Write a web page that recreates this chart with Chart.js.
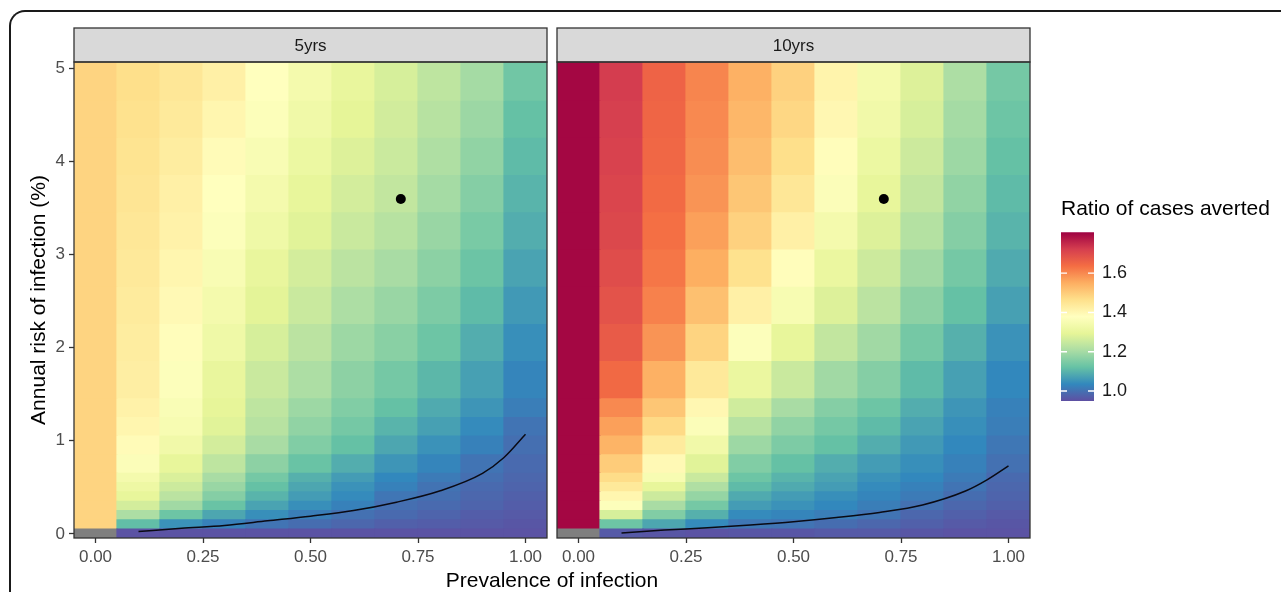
<!DOCTYPE html>
<html>
<head>
<meta charset="utf-8">
<script src="https://cdn.jsdelivr.net/npm/chart.js@4.4.1/dist/chart.umd.min.js"></script>
<style>
  html, body { margin: 0; padding: 0; background: #fff; overflow: hidden; }
  #wrap { position: relative; width: 1281px; height: 592px; overflow: hidden; }
  #wrap canvas { position: absolute; }
  #frame { position: absolute; left: 9px; top: 10px; width: 1400px; height: 700px;
           border-left: 2px solid #1a1a1a; border-top: 2px solid #1a1a1a; border-top-left-radius: 16px; }
</style>
</head>
<body>
<div id="wrap">
  <div id="frame"></div>
  <canvas id="panel5" width="1281" height="592" style="left:0;top:0"></canvas>
  <canvas id="panel10" width="1281" height="592" style="left:0;top:0"></canvas>
  <canvas id="legend" width="241" height="240" style="left:1040px;top:180px"></canvas>
</div>
<script>
let facets = ['5yrs', '10yrs'];
let xCenters = [0, 0.1, 0.2, 0.3, 0.4, 0.5, 0.6, 0.7, 0.8, 0.9, 1.0];
// row bounds of the tiles, bottom to top
let rowEdges = [-0.045, 0.05, 0.15, 0.25, 0.35, 0.45, 0.55, 0.65, 0.85, 1.05, 1.25, 1.45, 1.85, 2.25, 2.65, 3.05, 3.45, 3.85, 4.25, 4.65, 5.072];

// ratio of cases averted, one row per band (bottom first), one value per prevalence
let ratio5 = [
  [null, 0.955, 0.955, 0.955, 0.955, 0.955, 0.955, 0.955, 0.955, 0.955, 0.955],
  [1.485, 1.115, 1.05, 1.025, 1.005, 0.995, 0.985, 0.975, 0.97, 0.965, 0.96],
  [1.485, 1.21, 1.13, 1.08, 1.045, 1.02, 1.0, 0.99, 0.98, 0.97, 0.965],
  [1.485, 1.265, 1.195, 1.125, 1.075, 1.045, 1.025, 0.998, 0.99, 0.98, 0.97],
  [1.485, 1.30, 1.23, 1.16, 1.10, 1.065, 1.04, 1.008, 0.997, 0.985, 0.975],
  [1.485, 1.32, 1.255, 1.185, 1.12, 1.08, 1.05, 1.025, 1.003, 0.99, 0.98],
  [1.485, 1.34, 1.275, 1.205, 1.14, 1.095, 1.065, 1.035, 1.015, 0.998, 0.985],
  [1.485, 1.365, 1.30, 1.235, 1.17, 1.125, 1.09, 1.055, 1.03, 1.005, 0.99],
  [1.485, 1.39, 1.33, 1.265, 1.205, 1.155, 1.12, 1.08, 1.05, 1.025, 0.997],
  [1.485, 1.405, 1.35, 1.285, 1.225, 1.175, 1.14, 1.10, 1.07, 1.04, 1.005],
  [1.485, 1.415, 1.36, 1.295, 1.235, 1.19, 1.155, 1.12, 1.085, 1.055, 1.02],
  [1.485, 1.425, 1.37, 1.305, 1.25, 1.21, 1.17, 1.14, 1.105, 1.07, 1.03],
  [1.485, 1.43, 1.385, 1.325, 1.27, 1.23, 1.19, 1.165, 1.13, 1.09, 1.045],
  [1.485, 1.435, 1.395, 1.34, 1.29, 1.25, 1.21, 1.185, 1.15, 1.11, 1.06],
  [1.485, 1.44, 1.405, 1.355, 1.305, 1.265, 1.23, 1.205, 1.168, 1.128, 1.075],
  [1.485, 1.445, 1.415, 1.37, 1.325, 1.285, 1.25, 1.225, 1.185, 1.145, 1.09],
  [1.485, 1.45, 1.42, 1.38, 1.34, 1.30, 1.265, 1.24, 1.2, 1.16, 1.10],
  [1.485, 1.455, 1.43, 1.39, 1.355, 1.315, 1.28, 1.252, 1.213, 1.175, 1.11],
  [1.485, 1.46, 1.438, 1.405, 1.368, 1.328, 1.293, 1.262, 1.225, 1.188, 1.12],
  [1.485, 1.465, 1.445, 1.42, 1.38, 1.34, 1.305, 1.27, 1.235, 1.20, 1.135]
];

let ratio10 = [
  [null, 0.965, 0.96, 0.955, 0.96, 0.96, 0.965, 0.965, 0.96, 0.955, 0.955],
  [1.80, 1.13, 1.08, 1.04, 1.01, 1.005, 0.995, 0.985, 0.975, 0.965, 0.96],
  [1.80, 1.27, 1.155, 1.095, 1.04, 1.03, 1.02, 1.005, 0.985, 0.975, 0.965],
  [1.80, 1.37, 1.205, 1.14, 1.065, 1.05, 1.035, 1.02, 1.00, 0.985, 0.975],
  [1.80, 1.405, 1.255, 1.18, 1.085, 1.065, 1.045, 1.03, 1.015, 0.995, 0.98],
  [1.80, 1.44, 1.30, 1.215, 1.11, 1.085, 1.065, 1.04, 1.025, 1.005, 0.985],
  [1.80, 1.47, 1.35, 1.25, 1.13, 1.10, 1.075, 1.05, 1.035, 1.015, 0.99],
  [1.80, 1.50, 1.395, 1.285, 1.155, 1.12, 1.09, 1.065, 1.045, 1.025, 1.0],
  [1.80, 1.54, 1.435, 1.33, 1.19, 1.15, 1.12, 1.09, 1.06, 1.035, 1.01],
  [1.80, 1.57, 1.475, 1.365, 1.225, 1.175, 1.14, 1.11, 1.075, 1.045, 1.02],
  [1.80, 1.60, 1.51, 1.40, 1.26, 1.205, 1.16, 1.13, 1.09, 1.055, 1.025],
  [1.80, 1.645, 1.545, 1.44, 1.31, 1.25, 1.195, 1.16, 1.11, 1.07, 1.035],
  [1.80, 1.67, 1.585, 1.485, 1.37, 1.30, 1.24, 1.195, 1.14, 1.095, 1.05],
  [1.80, 1.685, 1.61, 1.52, 1.42, 1.35, 1.28, 1.23, 1.17, 1.12, 1.07],
  [1.80, 1.695, 1.625, 1.55, 1.46, 1.385, 1.31, 1.255, 1.195, 1.14, 1.085],
  [1.80, 1.705, 1.635, 1.57, 1.49, 1.42, 1.34, 1.28, 1.22, 1.16, 1.10],
  [1.80, 1.71, 1.643, 1.585, 1.51, 1.445, 1.365, 1.30, 1.24, 1.175, 1.11],
  [1.80, 1.715, 1.648, 1.595, 1.525, 1.465, 1.385, 1.315, 1.255, 1.19, 1.12],
  [1.80, 1.72, 1.652, 1.60, 1.535, 1.48, 1.40, 1.33, 1.27, 1.20, 1.13],
  [1.80, 1.725, 1.655, 1.605, 1.545, 1.49, 1.41, 1.34, 1.28, 1.21, 1.14]
];

// contour line (ratio = 1)
let lineX = [0.1, 0.2, 0.3, 0.4, 0.5, 0.6, 0.7, 0.8, 0.9, 0.95, 1.0];
let line5Y = [0.025, 0.06, 0.09, 0.14, 0.19, 0.25, 0.34, 0.46, 0.65, 0.82, 1.07];
let line10Y = [0.01, 0.04, 0.065, 0.095, 0.13, 0.175, 0.23, 0.31, 0.46, 0.58, 0.73];

let pointX = [0.71];
let pointY = [3.6];

let xTicks = [0, 0.25, 0.5, 0.75, 1];
let yTicks = [0, 1, 2, 3, 4, 5];
let legendTicks = [1.0, 1.2, 1.4, 1.6];
let ratioMin = 0.949;
let ratioMax = 1.809;
let spectral = ['#5E4FA2', '#3288BD', '#66C2A5', '#ABDDA4', '#E6F598', '#FFFFBF', '#FEE08B', '#FDAE61', '#F46D43', '#D53E4F', '#9E0142'];

Chart.defaults.font.family = "'Liberation Sans', Arial, sans-serif";
Chart.defaults.color = '#4d4d4d';

let spectralRgb = spectral.map(h => [parseInt(h.slice(1, 3), 16), parseInt(h.slice(3, 5), 16), parseInt(h.slice(5, 7), 16)]);

function ratioColor(v) {
    if (v === null) return '#7f7f7f';
    let n = spectral.length - 1;
    let t = (v - ratioMin) / (ratioMax - ratioMin) * n;
    t = Math.max(0, Math.min(n, t));
    let i = Math.min(Math.floor(t), n - 1);
    let f = t - i;
    let a = spectralRgb[i], b = spectralRgb[i + 1];
    let c = a.map((k, j) => Math.round(k + (b[j] - k) * f));
    return 'rgb(' + c.join(',') + ')';
}

function cellDatasets(ratio) {
    let sets = [];
    for (let r = 0; r < ratio.length; r++) {
        sets.push({
            type: 'bar',
            data: xCenters.map(x => ({ x: x, y: [rowEdges[r], rowEdges[r + 1]] })),
            backgroundColor: ratio[r].map(ratioColor),
            borderWidth: 0,
            grouped: false,
            barPercentage: 1,
            categoryPercentage: 1,
            inflateAmount: 0.6,
            order: 10
        });
    }
    return sets;
}

// strip header + panel border
let stripPlugin = {
    id: 'strip',
    afterDraw(chart, args, opts) {
        let a = chart.chartArea, ctx = chart.ctx;
        ctx.save();
        ctx.fillStyle = '#d9d9d9';
        ctx.fillRect(a.left, 28, a.right - a.left, a.top - 28);
        ctx.strokeStyle = '#333333';
        ctx.lineWidth = 1.3;
        ctx.strokeRect(a.left, 28, a.right - a.left, a.top - 28);
        ctx.strokeRect(a.left, a.top, a.right - a.left, a.bottom - a.top);
        ctx.fillStyle = '#1a1a1a';
        ctx.font = "17px 'Liberation Sans', Arial, sans-serif";
        ctx.textAlign = 'center';
        ctx.textBaseline = 'middle';
        ctx.fillText(opts.label, (a.left + a.right) / 2, (28 + a.top) / 2 + 1);
        ctx.restore();
    }
};

function panelOptions(i, showY) {
    let tickGrid = { display: true, drawOnChartArea: false, drawTicks: true, tickLength: 5, tickWidth: 1.3, tickColor: '#333333', offset: false };
    return {
        responsive: false,
        animation: false,
        layout: { padding: showY ? { left: 0, top: 62, right: 734, bottom: 0 } : { left: 557, top: 62, right: 251, bottom: 0 } },
        plugins: {
            legend: { display: false },
            tooltip: { enabled: false },
            strip: { label: facets[i] }
        },
        scales: {
            x: {
                type: 'linear', min: -0.05, max: 1.05, offset: false,
                afterBuildTicks: s => { s.ticks = xTicks.map(v => ({ value: v })); },
                afterFit: s => { s.height = 54; },
                grid: tickGrid,
                border: { display: false },
                ticks: { color: '#4d4d4d', font: { size: 17 }, padding: 4, maxRotation: 0, callback: v => v.toFixed(2) }
            },
            y: {
                type: 'linear', min: -0.045, max: 5.072, display: showY,
                afterBuildTicks: s => { s.ticks = yTicks.map(v => ({ value: v })); },
                afterFit: s => { s.width = showY ? 74 : 0; },
                grid: tickGrid,
                border: { display: false },
                ticks: { color: '#4d4d4d', font: { size: 17 }, padding: 4, callback: v => String(v) },
                title: { display: true, text: 'Annual risk of infection (%)', color: '#000', font: { size: 21 }, padding: { top: 27, bottom: 0 } }
            }
        }
    };
}

function panelData(ratio, lineY) {
    let sets = cellDatasets(ratio);
    sets.push({
        type: 'line',
        data: lineX.map((x, i) => ({ x: x, y: lineY[i] })),
        borderColor: '#0a0a14',
        borderWidth: 1.5,
        pointRadius: 0,
        cubicInterpolationMode: 'monotone',
        order: 1
    });
    sets.push({
        type: 'scatter',
        data: pointX.map((x, i) => ({ x: x, y: pointY[i] })),
        backgroundColor: '#000',
        borderWidth: 0,
        pointRadius: 5,
        order: 0
    });
    return { datasets: sets };
}

let chart5 = new Chart(document.getElementById('panel5'), {
    type: 'bar',
    data: panelData(ratio5, line5Y),
    options: panelOptions(0, true),
    plugins: [stripPlugin]
});

let xTitlePlugin = {
    id: 'xTitle',
    afterDraw(chart) {
        let ctx = chart.ctx;
        let mid = (chart5.chartArea.left + chart.chartArea.right) / 2;
        ctx.save();
        ctx.fillStyle = '#000';
        ctx.font = "21px 'Liberation Sans', Arial, sans-serif";
        ctx.textAlign = 'center';
        ctx.textBaseline = 'alphabetic';
        ctx.fillText('Prevalence of infection', mid, 587);
        ctx.restore();
    }
};

let chart10 = new Chart(document.getElementById('panel10'), {
    type: 'bar',
    data: panelData(ratio10, line10Y),
    options: panelOptions(1, false),
    plugins: [stripPlugin, xTitlePlugin]
});

// colour bar ticks
let whiteTicks = {
    id: 'whiteTicks',
    afterDatasetsDraw(chart) {
        let a = chart.chartArea, ctx = chart.ctx, y = chart.scales.y;
        ctx.save();
        ctx.strokeStyle = '#ffffff';
        ctx.lineWidth = 1.3;
        legendTicks.forEach(v => {
            let py = y.getPixelForValue(v);
            ctx.beginPath();
            ctx.moveTo(a.left, py); ctx.lineTo(a.left + 6, py);
            ctx.moveTo(a.right - 6, py); ctx.lineTo(a.right, py);
            ctx.stroke();
        });
        ctx.restore();
    }
};

let legendChart = new Chart(document.getElementById('legend'), {
    type: 'bar',
    data: {
        labels: [''],
        datasets: [{
            data: [[ratioMin, ratioMax]],
            backgroundColor: c => {
                let a = c.chart.chartArea;
                if (!a) return spectral[5];
                let g = c.chart.ctx.createLinearGradient(0, a.bottom, 0, a.top);
                spectral.forEach((col, i) => g.addColorStop(i / (spectral.length - 1), col));
                return g;
            },
            borderWidth: 0,
            barPercentage: 1,
            categoryPercentage: 1
        }]
    },
    options: {
        responsive: false,
        animation: false,
        layout: { padding: { left: 21, right: 0, top: 0, bottom: 19 } },
        plugins: {
            legend: { display: false },
            tooltip: { enabled: false },
            title: { display: true, text: 'Ratio of cases averted', align: 'start', color: '#000',
                     font: { size: 21, weight: 'normal' }, padding: { top: 17, bottom: 10 } }
        },
        scales: {
            x: { display: false },
            y: {
                position: 'right', min: ratioMin, max: ratioMax,
                afterBuildTicks: s => { s.ticks = legendTicks.map(v => ({ value: v })); },
                afterFit: s => { s.width = 187; },
                grid: { display: false, drawTicks: false },
                border: { display: false },
                ticks: { color: '#1a1a1a', font: { size: 18 }, padding: 8, callback: v => v.toFixed(1) }
            }
        }
    },
    plugins: [whiteTicks]
});
</script>
</body>
</html>
